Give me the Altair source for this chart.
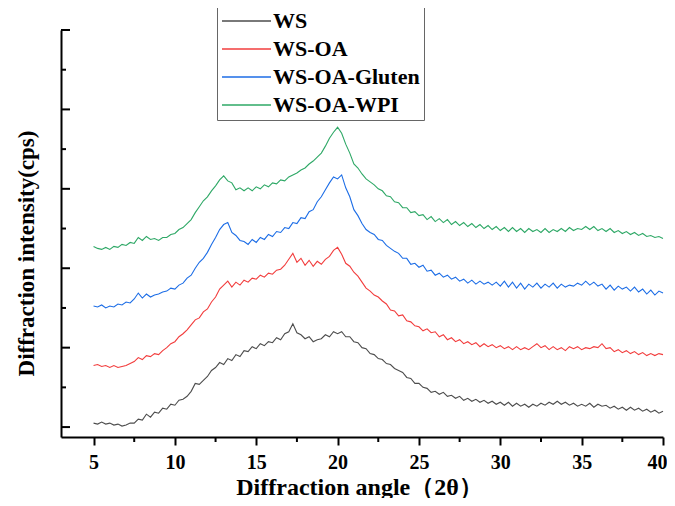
import altair as alt
import pandas as pd

# 2-theta sampling grid (degrees), 0.25 deg step from 5 to 40
angles = [5 + 0.25 * i for i in range(141)]

samples = ["WS", "WS-OA", "WS-OA-Gluten", "WS-OA-WPI"]
colors = ["#4d4d4d", "#f23c3c", "#1c6de6", "#2ea866"]

ws = [4, 3, 5, 3, 4, 2, 3, 1, 2, 4, 4, 8, 7, 13, 10, 15, 14, 19, 18, 23,
      22, 27, 28, 31, 36, 44, 43, 47, 51, 57, 60, 65, 63, 69, 67, 73, 71, 77, 76, 81,
      79, 84, 82, 86, 85, 90, 88, 94, 96, 104, 95, 93, 89, 91, 86, 88, 89, 93, 91, 96,
      94, 96, 91, 91, 86, 85, 80, 79, 74, 73, 69, 68, 64, 63, 59, 57, 55, 50, 49, 44,
      44, 40, 39, 35, 36, 33, 35, 31, 32, 29, 31, 27, 29, 26, 28, 25, 27, 24, 26, 23,
      25, 22, 25, 21, 24, 21, 23, 20, 23, 21, 24, 22, 25, 23, 26, 23, 25, 22, 24, 21,
      23, 21, 24, 20, 23, 21, 22, 19, 21, 18, 20, 17, 20, 17, 19, 16, 18, 15, 17, 14,
      16]

ws_oa = [62, 63, 61, 62, 60, 62, 60, 61, 62, 64, 66, 70, 68, 72, 71, 74, 73, 77, 80, 84,
         86, 91, 94, 98, 103, 108, 110, 116, 119, 126, 131, 139, 143, 147, 141, 146, 143, 148, 146, 150,
         149, 153, 151, 155, 154, 158, 159, 163, 169, 175, 166, 170, 163, 168, 162, 167, 164, 169, 172, 178,
         181, 174, 165, 162, 156, 152, 146, 140, 137, 133, 131, 127, 124, 118, 117, 112, 113, 107, 106, 102,
         101, 97, 99, 95, 96, 91, 93, 88, 90, 86, 88, 84, 86, 83, 85, 81, 84, 81, 83, 80,
         82, 79, 81, 78, 81, 78, 80, 78, 81, 84, 80, 82, 78, 81, 78, 80, 77, 81, 79, 81,
         78, 80, 79, 81, 80, 84, 79, 80, 76, 78, 75, 77, 74, 76, 73, 75, 72, 74, 72, 74,
         73]

ws_oa_gluten = [122, 121, 123, 120, 122, 121, 124, 123, 126, 125, 129, 135, 130, 134, 131, 133, 134, 136, 137, 140,
                139, 143, 145, 150, 153, 160, 166, 170, 176, 184, 191, 199, 204, 206, 196, 193, 188, 187, 184, 189,
                186, 191, 189, 194, 192, 197, 196, 201, 200, 206, 205, 211, 210, 217, 219, 227, 232, 239, 246, 252,
                250, 254, 241, 232, 219, 213, 205, 199, 196, 194, 189, 188, 183, 180, 177, 175, 170, 170, 164, 165,
                161, 163, 157, 158, 153, 155, 151, 153, 149, 151, 147, 149, 145, 148, 144, 147, 144, 146, 143, 146,
                142, 147, 141, 146, 140, 145, 139, 144, 141, 145, 140, 144, 141, 145, 140, 144, 141, 143, 142, 145,
                143, 147, 143, 146, 142, 144, 139, 143, 138, 142, 139, 141, 137, 141, 136, 139, 134, 138, 133, 137,
                135]

ws_oa_wpi = [182, 180, 179, 181, 179, 182, 181, 184, 183, 186, 185, 191, 188, 192, 189, 190, 188, 191, 191, 194,
             195, 199, 201, 205, 209, 216, 222, 228, 232, 238, 243, 249, 253, 248, 246, 239, 241, 238, 241, 238,
             242, 240, 244, 242, 246, 245, 249, 248, 252, 254, 256, 259, 261, 265, 268, 272, 276, 283, 291, 297,
             302, 296, 285, 276, 265, 261, 255, 250, 247, 244, 240, 238, 233, 232, 227, 226, 221, 221, 216, 217,
             213, 214, 209, 212, 207, 210, 206, 209, 204, 207, 203, 206, 202, 205, 201, 204, 200, 203, 199, 202,
             198, 201, 197, 201, 197, 200, 196, 200, 197, 199, 196, 200, 196, 199, 197, 200, 197, 201, 198, 200,
             199, 202, 199, 202, 198, 200, 197, 200, 196, 198, 195, 197, 194, 196, 193, 195, 192, 193, 191, 192,
             190]

x_major = [5, 10, 15, 20, 25, 30, 35, 40]
x_minor = [7.5, 12.5, 17.5, 22.5, 27.5, 32.5, 37.5]
y_major = [0, 80, 160, 240, 320, 400]
y_minor = [40, 120, 200, 280, 360]

series = [ws, ws_oa, ws_oa_gluten, ws_oa_wpi]
rows = []
for name, vals in zip(samples, series):
    for a, v in zip(angles, vals):
        rows.append({"angle": a, "intensity": v, "sample": name})
df = pd.DataFrame(rows)

FONT = "Times New Roman, Liberation Serif, serif"
xscale = alt.Scale(domain=[3, 40], nice=False, zero=False)
yscale = alt.Scale(domain=[-10, 400], nice=False, zero=False)

xaxis = alt.Axis(values=x_major, title="Diffraction angle（2θ）",
                 grid=False, domainColor="black", domainWidth=2,
                 tickColor="black", tickWidth=2, tickSize=8,
                 labelFont=FONT, labelFontSize=20, labelFontWeight="bold",
                 labelColor="black", labelBaseline="alphabetic",
                 labelPadding=23, labelFlush=True, labelFlushOffset=4,
                 titleFont=FONT, titleFontSize=24, titleFontWeight="bold",
                 titleColor="black", titleX=298, titleY=57,
                 titleAlign="center", titleBaseline="alphabetic")
yaxis = alt.Axis(title="Diffraction intensity(cps)", grid=False,
                 labels=False, ticks=False, domainColor="black", domainWidth=2,
                 titleFont=FONT, titleFontSize=23, titleFontWeight="bold",
                 titleColor="black", titleX=-28, titleY=223, titleAngle=270,
                 titleAlign="center", titleBaseline="alphabetic")

lines = alt.Chart(df).mark_line(strokeWidth=1.1).encode(
    x=alt.X("angle:Q", scale=xscale, axis=xaxis),
    y=alt.Y("intensity:Q", scale=yscale, axis=yaxis),
    color=alt.Color("sample:N", scale=alt.Scale(domain=samples, range=colors),
                    sort=samples,
                    legend=alt.Legend(orient="none", legendX=156, legendY=-23, title=None,
                                      symbolType="stroke", symbolSize=2401,
                                      symbolStrokeWidth=1.5, labelFont=FONT,
                                      labelFontSize=22, labelFontWeight="bold",
                                      labelColor="black", labelLimit=300, labelOffset=1,
                                      clipHeight=20, padding=4, rowPadding=6,
                                      strokeColor="#666666")),
)

ymaj = alt.Chart(pd.DataFrame({"intensity": y_major})).mark_rule(color="black", strokeWidth=2).encode(
    y=alt.Y("intensity:Q", scale=yscale, axis=yaxis), x=alt.value(0), x2=alt.value(9))
ymin = alt.Chart(pd.DataFrame({"intensity": y_minor})).mark_rule(color="black", strokeWidth=2).encode(
    y=alt.Y("intensity:Q", scale=yscale, axis=yaxis), x=alt.value(0), x2=alt.value(5))
xmin = alt.Chart(pd.DataFrame({"angle": x_minor})).mark_rule(color="black", strokeWidth=2).encode(
    x=alt.X("angle:Q", scale=xscale, axis=xaxis), y=alt.value(407), y2=alt.value(412))

chart = alt.layer(lines, ymaj, ymin, xmin).properties(
    width=602, height=407,
    autosize=alt.AutoSizeParams(type="none"),
    padding={"left": 53, "top": 22, "right": 4, "bottom": 61},
).configure_view(stroke="transparent")

chart.save("out.html", embed_options={"renderer": "svg", "actions": False})
